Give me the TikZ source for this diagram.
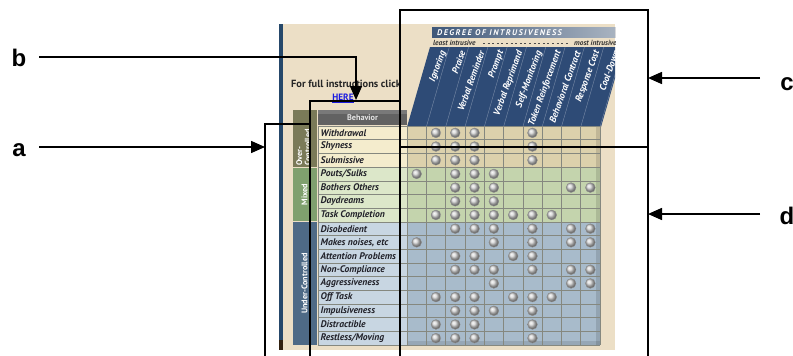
\documentclass[tikz,border=0pt]{standalone}
\usepackage{fontspec}
\setmainfont{Liberation Sans}
\newfontfamily\ptsans{PT Sans}
\usetikzlibrary{arrows.meta}
\definecolor{paneltan}{HTML}{ECDFC6}
\definecolor{stripblue}{HTML}{26486A}
\definecolor{hdrnavy}{HTML}{2E4B76}
\definecolor{hdrA}{HTML}{3E5779}
\definecolor{hdrB}{HTML}{AEB8C4}
\definecolor{overrow}{HTML}{F4ECCD}
\definecolor{overgrid}{HTML}{DCD1AC}
\definecolor{overgrp}{HTML}{7A7A58}
\definecolor{mixrow}{HTML}{DCE7C9}
\definecolor{mixgrid}{HTML}{C4D4AD}
\definecolor{mixgrp}{HTML}{7FA06E}
\definecolor{undrow}{HTML}{C8D6E2}
\definecolor{undgrid}{HTML}{A8BBCB}
\definecolor{undgrp}{HTML}{4E6A86}
\definecolor{gridline}{HTML}{85887F}
\definecolor{behavhdr}{HTML}{626262}
\definecolor{behtext}{HTML}{22222A}
\definecolor{herelink}{HTML}{1A1AE0}
\begin{document}
\begin{tikzpicture}[x=1pt,y=-1pt,
  ann/.style={line width=1.6pt,black},
  tip/.style={-{Triangle[length=14pt,width=12pt]}},
  lbl/.style={font=\fontsize{24}{26}\selectfont\bfseries,inner sep=0pt,anchor=base},
  behlbl/.style={font=\ptsans\fontsize{9.6}{10}\selectfont\bfseries\itshape,text=behtext,anchor=west,inner sep=0pt},
  collbl/.style={font=\ptsans\fontsize{9.4}{10}\selectfont\bfseries\itshape,text=white,anchor=east,rotate=70,inner sep=0pt},
  grplbl/.style={font=\ptsans\fontsize{8.2}{8.6}\selectfont\bfseries,text=white,rotate=90,inner sep=0pt},
  gline/.style={gridline,line width=0.5pt}]
\useasboundingbox (0,0) rectangle (793,356);
\fill[white] (0,0) rectangle (793,356);
% ---- screenshot panel ----
\fill[paneltan] (279,24) rectangle (615,350);
\fill[stripblue] (279,24) rectangle (283,340);
\fill[black!75!brown] (279,340) rectangle (283,350);
\begin{scope}
\clip (279,0) rectangle (615,356);
% header bar
\fill[left color=hdrA,right color=hdrB] (432,27) rectangle (625,37.5);
\node[font=\ptsans\fontsize{8.2}{8.6}\selectfont\bfseries\itshape,text=white,anchor=west,inner sep=0pt] (degree) at (437,32.3) {\addfontfeature{LetterSpace=18}DEGREE OF INTRUSIVENESS};
% least/most intrusive
\node[font=\ptsans\fontsize{7.4}{8}\selectfont\bfseries\itshape,text=black!80,anchor=west,inner sep=0pt] (least) at (433,42.8) {least intrusive};
\draw[black!70,line width=1pt,dash pattern=on 2pt off 2.6pt] (483,43) -- (570,43);
\node[font=\ptsans\fontsize{7.4}{8}\selectfont\bfseries\itshape,text=black!80,anchor=west,inner sep=0pt] (most) at (574,42.8) {most intrusive};
% slanted header
\fill[hdrnavy] (407,127) -- (601,127) -- (624,47) -- (430,47) -- cycle;
\foreach \k in {1,...,10}{
  \draw[white,opacity=0.35,line width=0.4pt] ({407+19.3*\k},127) -- ({430+19.3*\k},47);
}
\foreach \i/\nm in {1/Ignoring,2/Praise,3/Verbal Reminder,4/Prompt,5/Verbal Reprimand,6/Self-Monitoring,7/Token Reinforcement,8/Behavioral Contract,9/Response Cost,10/Cool-Down}{
  \node[collbl] (h\i) at ({443.5+19.2*(\i-1)},51) {\nm};
}
\end{scope}
% text above table
\node[font=\ptsans\fontsize{10.4}{11}\selectfont\bfseries,text=black!85,anchor=west,inner sep=0pt] (full) at (291,84) {For full instructions click};
\node[font=\ptsans\fontsize{9.2}{10}\selectfont\bfseries,text=herelink,inner sep=0pt] (here) at (343,98.5) {\underline{HERE}};
% group column
\fill[overgrp] (293,110) rectangle (316.5,167.06);
\fill[mixgrp] (293,167.06) rectangle (316.5,221.81);
\fill[undgrp] (293,221.81) rectangle (316.5,345);
\draw[paneltan,line width=0.8pt] (293,167.06) -- (316.5,167.06) (293,221.81) -- (316.5,221.81);
\node[grplbl,anchor=west,align=left] (gover) at (303.5,166) {Over-\\Controlled};
\node[grplbl] (gmix) at (304.5,194.4) {Mixed};
\node[grplbl] (gund) at (304.5,283.4) {Under-Controlled};
% Behavior header
\fill[behavhdr] (318,110) rectangle (407,124.5);
\fill[white,opacity=0.15] (318,110) rectangle (407,114);
\node[font=\ptsans\fontsize{8.2}{9}\selectfont\bfseries,text=black!10,inner sep=0pt] (behhdr) at (362.5,117.3) {Behavior};
% row backgrounds
\fill[overrow] (318,126) rectangle (407,167.06);
\fill[mixrow] (318,167.06) rectangle (407,221.81);
\fill[undrow] (318,221.81) rectangle (407,345);
\fill[overgrid] (407,126) rectangle (600,167.06);
\fill[mixgrid] (407,167.06) rectangle (600,221.81);
\fill[undgrid] (407,221.81) rectangle (600,345);
\fill[black,opacity=0.12] (596,126) rectangle (600,345);
\fill[black,opacity=0.10] (407,341) rectangle (600,345);
% grid lines
\foreach \r in {0,...,16}{
  \draw[gline] (318,{126+13.6875*\r}) -- (600,{126+13.6875*\r});
}
\foreach \k in {0,...,10}{
  \draw[gline] ({407+19.3*\k},126) -- ({407+19.3*\k},345);
}
\draw[gline] (318,126) -- (318,345);
% rows: labels and dots
\begin{scope}
\clip (318,120) rectangle (406,350);
\foreach \i/\nm in {1/Withdrawal,2/Shyness,3/Submissive,4/{Pouts/Sulks},5/Bothers Others,6/Daydreams,7/Task Completion,8/Disobedient,9/{Makes noises, etc},10/Attention Problems,11/Non-Compliance,12/Aggressiveness,13/Off Task,14/Impulsiveness,15/Distractible,16/{Restless/Moving}}{
  \node[behlbl] (r\i) at (320.5,{126+13.6875*(\i-0.5)}) {\nm};
}
\end{scope}
\foreach \i/\dd in {1/{2,3,4,7},2/{2,3,4,7},3/{2,3,4,7},4/{1,3,4,5},5/{3,4,5,9,10},6/{3,4,5},7/{2,3,4,5,6,7,8},8/{3,4,5,7,9,10},9/{1,5,7,9,10},10/{3,4,6,7},11/{3,4,5,7,9,10},12/{5,9,10},13/{2,3,4,6,7,8},14/{3,4,5,7},15/{2,3,4,7},16/{2,3,4,7}}{
  \foreach \c in \dd {
    \shade[ball color=black!18] ({407+19.3*(\c-0.5)},{126+13.6875*(\i-0.5)}) circle (4.9pt);
    \draw[black!45,line width=0.4pt] ({407+19.3*(\c-0.5)},{126+13.6875*(\i-0.5)}) circle (4.9pt);
  }
}
% ---- annotations ----
\node[lbl] (lb) at (19,66) {b};
\node[lbl] (la) at (19,156) {a};
\node[lbl] (lc) at (787,90) {c};
\node[lbl] (ld) at (787,224) {d};
\coordinate (bs) at (39,57);
\coordinate (bc) at (356,57);
\coordinate (bt) at (356,100);
\coordinate (as) at (39,147);
\coordinate (at) at (265,147);
\coordinate (cs) at (760,78);
\coordinate (ct) at (648,78);
\coordinate (ds) at (760,214);
\coordinate (dt) at (648,214);
\coordinate (ab) at (265,356);
\coordinate (atop) at (265,124);
\coordinate (atr) at (310,124);
\coordinate (hb) at (310,356);
\coordinate (htl) at (310,101);
\coordinate (htr) at (400,101);
\coordinate (cbl) at (400,356);
\coordinate (ctl) at (400,10);
\coordinate (ctr) at (648,10);
\coordinate (cbr) at (648,356);
\coordinate (ml) at (400,147);
\coordinate (mr) at (648,147);
\draw[ann,line join=miter] (ab) -- (atop) -- (atr);
\draw[ann,line join=miter] (hb) -- (htl) -- (htr);
\draw[ann,line join=miter] (cbl) -- (ctl) -- (ctr) -- (cbr);
\draw[ann] (ml) -- (mr);
\draw[ann,tip,line join=miter] (bs) -- (bc) -- (bt);
\draw[ann,tip] (as) -- (at);
\draw[ann,tip] (cs) -- (ct);
\draw[ann,tip] (ds) -- (dt);
\end{tikzpicture}
\end{document}
